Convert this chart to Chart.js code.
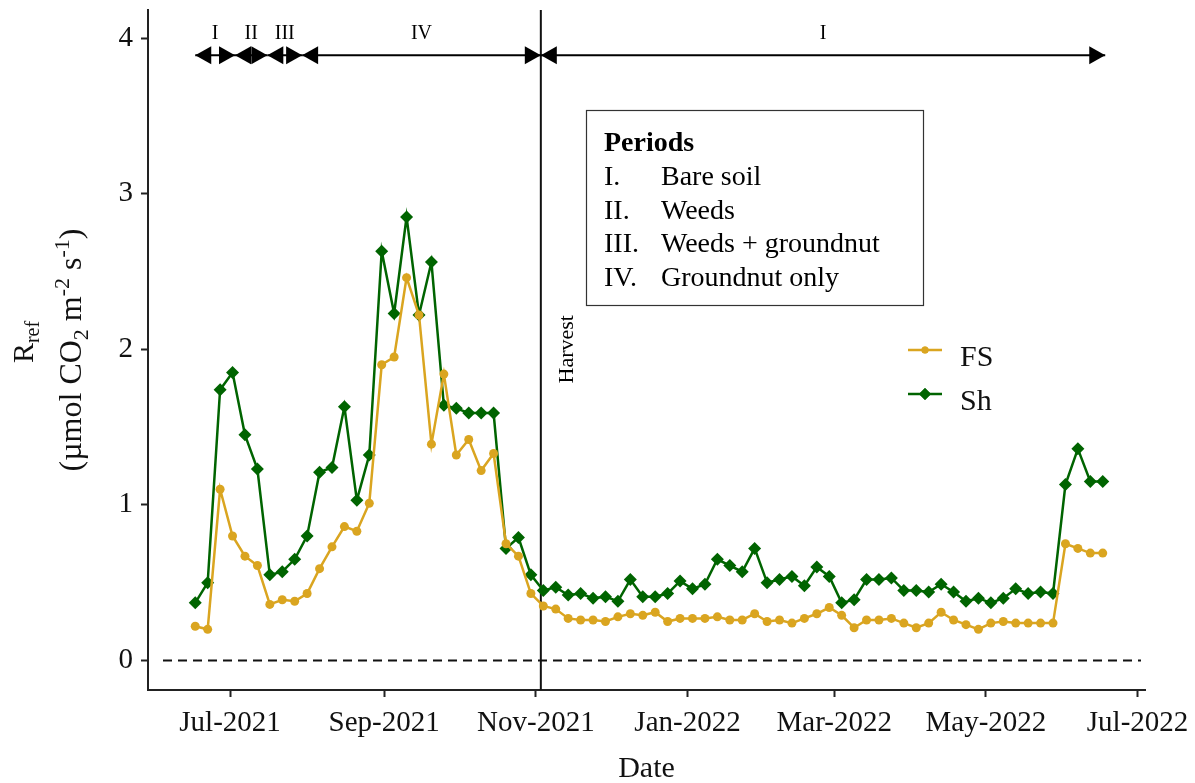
<!DOCTYPE html>
<html>
<head>
<meta charset="utf-8">
<script src="https://cdn.jsdelivr.net/npm/chart.js@4.4.1/dist/chart.umd.min.js"></script>
<style>
  html, body { margin: 0; padding: 0; background: #fff; }
  canvas { display: block; }
</style>
</head>
<body>
<canvas id="chart" width="1195" height="783"></canvas>
<script>
const sampleDates = [
  '2021-06-17','2021-06-22','2021-06-27','2021-07-02','2021-07-07','2021-07-12','2021-07-17','2021-07-22','2021-07-27',
  '2021-08-01','2021-08-06','2021-08-11','2021-08-16','2021-08-21','2021-08-26','2021-08-31',
  '2021-09-05','2021-09-10','2021-09-15','2021-09-20','2021-09-25','2021-09-30',
  '2021-10-05','2021-10-10','2021-10-15','2021-10-20','2021-10-25','2021-10-30',
  '2021-11-04','2021-11-09','2021-11-14','2021-11-19','2021-11-24','2021-11-29',
  '2021-12-04','2021-12-09','2021-12-14','2021-12-19','2021-12-24','2021-12-29',
  '2022-01-03','2022-01-08','2022-01-13','2022-01-18','2022-01-23','2022-01-28',
  '2022-02-02','2022-02-07','2022-02-12','2022-02-17','2022-02-22','2022-02-27',
  '2022-03-04','2022-03-09','2022-03-14','2022-03-19','2022-03-24','2022-03-29',
  '2022-04-03','2022-04-08','2022-04-13','2022-04-18','2022-04-23','2022-04-28',
  '2022-05-03','2022-05-08','2022-05-13','2022-05-18','2022-05-23','2022-05-28',
  '2022-06-02','2022-06-07','2022-06-12','2022-06-17'
];
const fsValues = [
  0.22, 0.20, 1.10, 0.80, 0.67, 0.61, 0.36, 0.39, 0.38,
  0.43, 0.59, 0.73, 0.86, 0.83, 1.01, 1.90,
  1.95, 2.46, 2.22, 1.39, 1.84, 1.32,
  1.42, 1.22, 1.33, 0.75, 0.67, 0.43,
  0.35, 0.33, 0.27, 0.26, 0.26, 0.25,
  0.28, 0.30, 0.29, 0.31, 0.25, 0.27,
  0.27, 0.27, 0.28, 0.26, 0.26, 0.30,
  0.25, 0.26, 0.24, 0.27, 0.30, 0.34,
  0.29, 0.21, 0.26, 0.26, 0.27, 0.24,
  0.21, 0.24, 0.31, 0.26, 0.23, 0.20,
  0.24, 0.25, 0.24, 0.24, 0.24, 0.24,
  0.75, 0.72, 0.69, 0.69
];
const shValues = [
  0.37, 0.50, 1.74, 1.85, 1.45, 1.23, 0.55, 0.57, 0.65,
  0.80, 1.21, 1.24, 1.63, 1.03, 1.32, 2.63,
  2.23, 2.85, 2.22, 2.56, 1.64, 1.62,
  1.59, 1.59, 1.59, 0.72, 0.79, 0.55,
  0.45, 0.47, 0.42, 0.43, 0.40, 0.41,
  0.38, 0.52, 0.41, 0.41, 0.43, 0.51,
  0.46, 0.49, 0.65, 0.61, 0.57, 0.72,
  0.50, 0.52, 0.54, 0.48, 0.60, 0.54,
  0.37, 0.39, 0.52, 0.52, 0.53, 0.45,
  0.45, 0.44, 0.49, 0.44, 0.38, 0.40,
  0.37, 0.40, 0.46, 0.43, 0.44, 0.43,
  1.13, 1.36, 1.15, 1.15
];

const tickDates = ['2021-07-01','2021-09-01','2021-11-01','2022-01-01','2022-03-01','2022-05-01','2022-07-01'];
const tickLabels = ['Jul-2021','Sep-2021','Nov-2021','Jan-2022','Mar-2022','May-2022','Jul-2022'];
const yTicks = [0, 1, 2, 3, 4];

// crop periods shown as arrows along the top
const periodLabels = ['I', 'II', 'III', 'IV', 'I'];
const periodStarts = ['2021-06-17','2021-07-03','2021-07-16','2021-07-30','2021-11-03'];
const periodEnds   = ['2021-07-03','2021-07-16','2021-07-30','2021-11-03','2022-06-18'];
const harvestDate = '2021-11-03';

const periodNumerals = ['I.', 'II.', 'III.', 'IV.'];
const periodNames = ['Bare soil', 'Weeds', 'Weeds + groundnut', 'Groundnut only'];

const seriesNames = ['FS', 'Sh'];
const FS_COLOR = '#DAA520';
const SH_COLOR = '#006400';
const SERIF = '"Liberation Serif", "DejaVu Serif", serif';

function dayNum(s) {
  const [yy, mm, dd] = s.split('-').map(Number);
  return Date.UTC(yy, mm - 1, dd) / 86400000;
}

const fsPoints = sampleDates.map((d, i) => ({ x: dayNum(d), y: fsValues[i] }));
const shPoints = sampleDates.map((d, i) => ({ x: dayNum(d), y: shValues[i] }));

// draw text made of pieces (sub/superscripts), rotated -90deg, centred on cy
function drawRotatedRich(ctx, parts, baseX, cy) {
  ctx.save();
  ctx.translate(baseX, cy);
  ctx.rotate(-Math.PI / 2);
  ctx.textBaseline = 'alphabetic';
  ctx.textAlign = 'left';
  let total = 0;
  parts.forEach(p => { ctx.font = p.size + 'px ' + SERIF; total += ctx.measureText(p.t).width; });
  let x = -total / 2;
  parts.forEach(p => {
    ctx.font = p.size + 'px ' + SERIF;
    ctx.fillText(p.t, x, p.dy || 0);
    x += ctx.measureText(p.t).width;
  });
  ctx.restore();
}

function arrowHead(ctx, tipX, y, dir) {
  // dir = -1 points left, +1 points right
  const len = 16, half = 9;
  ctx.beginPath();
  ctx.moveTo(tipX, y);
  ctx.lineTo(tipX - dir * len, y - half);
  ctx.lineTo(tipX - dir * len, y + half);
  ctx.closePath();
  ctx.fill();
}

const extrasPlugin = {
  id: 'extras',
  beforeDatasetsDraw(chart) {
    const { ctx, chartArea, scales: { x, y } } = chart;
    ctx.save();
    // zero reference line
    ctx.strokeStyle = '#111';
    ctx.lineWidth = 2;
    ctx.setLineDash([9, 6]);
    ctx.lineDashOffset = -6;
    const y0 = y.getPixelForValue(0);
    ctx.beginPath();
    ctx.moveTo(chartArea.left + 9, y0);
    ctx.lineTo(chartArea.right - 4, y0);
    ctx.stroke();
    ctx.setLineDash([]);
    // harvest line
    const hx = x.getPixelForValue(dayNum(harvestDate));
    ctx.beginPath();
    ctx.moveTo(hx, chartArea.top);
    ctx.lineTo(hx, chartArea.bottom);
    ctx.stroke();
    ctx.restore();
  },
  afterDatasetsDraw(chart) {
    const { ctx, chartArea, scales: { x, y } } = chart;
    ctx.save();
    ctx.fillStyle = '#000';
    ctx.strokeStyle = '#000';

    // period arrows
    const ay = y.getPixelForValue(3.89);
    ctx.lineWidth = 2;
    periodLabels.forEach((lab, i) => {
      const x1 = x.getPixelForValue(dayNum(periodStarts[i]));
      const x2 = x.getPixelForValue(dayNum(periodEnds[i]));
      ctx.beginPath();
      ctx.moveTo(x1, ay);
      ctx.lineTo(x2, ay);
      ctx.stroke();
      arrowHead(ctx, x1, ay, -1);
      arrowHead(ctx, x2, ay, 1);
      ctx.font = '20px ' + SERIF;
      ctx.textAlign = 'center';
      ctx.textBaseline = 'alphabetic';
      ctx.fillText(lab, (x1 + x2) / 2, ay - 16);
    });

    // harvest label
    const hx = x.getPixelForValue(dayNum(harvestDate));
    ctx.save();
    ctx.translate(hx + 32, y.getPixelForValue(2.0));
    ctx.rotate(-Math.PI / 2);
    ctx.font = '22px ' + SERIF;
    ctx.textAlign = 'center';
    ctx.textBaseline = 'alphabetic';
    ctx.fillText('Harvest', 0, 0);
    ctx.restore();

    // periods box
    ctx.lineWidth = 1.2;
    ctx.strokeStyle = '#333';
    ctx.strokeRect(586.5, 110.5, 337, 195);
    ctx.textAlign = 'left';
    ctx.textBaseline = 'alphabetic';
    ctx.font = 'bold 28px ' + SERIF;
    ctx.fillText('Periods', 604, 151);
    ctx.font = '28px ' + SERIF;
    periodNames.forEach((name, i) => {
      const by = 185 + i * 33.5;
      ctx.fillText(periodNumerals[i], 604, by);
      ctx.fillText(name, 661, by);
    });

    // series legend
    const legendRows = [
      { name: seriesNames[0], color: FS_COLOR, style: 'circle', r: 3.5, ly: 350 },
      { name: seriesNames[1], color: SH_COLOR, style: 'rectRot', r: 6, ly: 394 }
    ];
    legendRows.forEach(row => {
      ctx.strokeStyle = row.color;
      ctx.fillStyle = row.color;
      ctx.lineWidth = 2.5;
      ctx.beginPath();
      ctx.moveTo(908, row.ly);
      ctx.lineTo(942, row.ly);
      ctx.stroke();
      Chart.helpers.drawPoint(ctx, { pointStyle: row.style, radius: row.r, borderWidth: 0 }, 925, row.ly);
      ctx.fill();
      ctx.fillStyle = '#111';
      ctx.font = '30px ' + SERIF;
      ctx.fillText(row.name, 960, row.ly + 16);
    });

    // axis titles
    ctx.fillStyle = '#111';
    ctx.textAlign = 'center';
    ctx.font = '30px ' + SERIF;
    ctx.fillText('Date', (chartArea.left + chartArea.right) / 2, 777);
    const cy = (chartArea.top + chartArea.bottom) / 2;
    drawRotatedRich(ctx, [
      { t: 'R', size: 30 },
      { t: 'ref', size: 20, dy: 6 }
    ], 33, cy - 8);
    drawRotatedRich(ctx, [
      { t: '(µmol CO', size: 32 },
      { t: '2', size: 22, dy: 7 },
      { t: ' m', size: 32 },
      { t: '-2', size: 22, dy: -12 },
      { t: ' s', size: 32 },
      { t: '-1', size: 22, dy: -12 },
      { t: ')', size: 32 }
    ], 81, cy);
    ctx.restore();
  }
};

const axisGrid = {
  display: true,
  drawOnChartArea: false,
  drawTicks: true,
  tickLength: 7,
  tickWidth: 2,
  tickColor: '#222'
};

new Chart(document.getElementById('chart'), {
  type: 'line',
  data: {
    datasets: [
      {
        label: seriesNames[0],
        data: fsPoints,
        borderColor: FS_COLOR,
        backgroundColor: FS_COLOR,
        borderWidth: 2.5,
        pointStyle: 'circle',
        pointRadius: 4.5,
        pointBorderWidth: 0,
        tension: 0
      },
      {
        label: seriesNames[1],
        data: shPoints,
        borderColor: SH_COLOR,
        backgroundColor: SH_COLOR,
        borderWidth: 2.5,
        pointStyle: 'rectRot',
        pointRadius: 6.5,
        pointBorderWidth: 0,
        tension: 0
      }
    ]
  },
  options: {
    responsive: false,
    animation: false,
    devicePixelRatio: 1,
    layout: { padding: { top: 10, right: 50, left: 0, bottom: 0 } },
    plugins: {
      legend: { display: false },
      tooltip: { enabled: false }
    },
    scales: {
      x: {
        type: 'linear',
        min: dayNum('2021-05-29'),
        max: dayNum('2022-07-04'),
        afterBuildTicks: s => { s.ticks = tickDates.map(d => ({ value: dayNum(d) })); },
        afterFit: s => { s.height = 93; s.paddingLeft = 0; s.paddingRight = 0; },
        ticks: {
          autoSkip: false,
          maxRotation: 0,
          padding: 9,
          color: '#111',
          font: { family: SERIF, size: 29 },
          callback: (v, i) => tickLabels[i]
        },
        grid: axisGrid,
        border: { display: true, color: '#222', width: 2 }
      },
      y: {
        type: 'linear',
        min: -0.19,
        max: 4.18,
        afterBuildTicks: s => { s.ticks = yTicks.map(v => ({ value: v })); },
        afterFit: s => { s.width = 148; s.paddingTop = 0; s.paddingBottom = 0; },
        ticks: {
          padding: 8,
          color: '#111',
          font: { family: SERIF, size: 29 },
          callback: v => String(v)
        },
        grid: axisGrid,
        border: { display: true, color: '#222', width: 2 }
      }
    }
  },
  plugins: [extrasPlugin]
});
</script>
</body>
</html>
